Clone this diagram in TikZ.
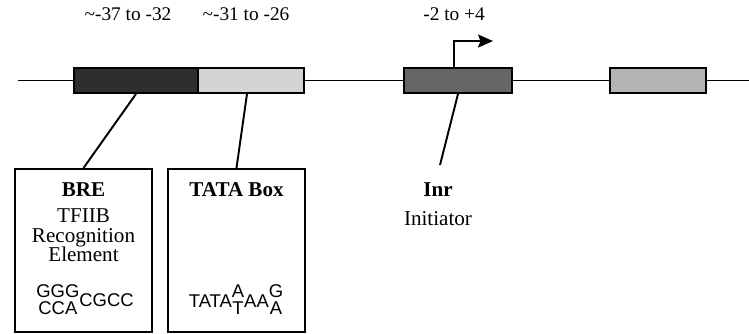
\documentclass[tikz,border=0pt]{standalone}
\usepackage{fontspec}
\setmainfont{Liberation Serif}
\setsansfont{Liberation Sans}
\usetikzlibrary{arrows.meta, positioning}

\definecolor{bredark}{HTML}{2E2E2E}
\definecolor{tatalight}{HTML}{D4D4D4}
\definecolor{inrgray}{HTML}{666666}
\definecolor{downgray}{HTML}{B3B3B3}

% two bases stacked at one position of a sequence
\newcommand{\basestack}[2]{{\renewcommand{\arraystretch}{0.74}\begin{tabular}[c]{@{}c@{}}#1\\#2\end{tabular}}}

\begin{document}
\begin{tikzpicture}[
    node distance=3mm,
    element/.style={rectangle, draw, line width=1.1pt, minimum height=0.5cm, inner sep=0pt},
    detail/.style={rectangle, draw, line width=1.1pt, minimum width=2.74cm, minimum height=3.26cm, anchor=north},
    poslabel/.style={font=\fontsize{11}{13}\selectfont, inner sep=0pt, anchor=base},
    title/.style={font=\fontsize{12}{14}\selectfont\bfseries, inner sep=0pt},
    desc/.style={font=\fontsize{12}{11.2}\selectfont, align=center, inner sep=0pt},
    seq/.style={font=\sffamily\fontsize{10.5}{12}\selectfont, inner sep=0pt, anchor=base},
    dna/.style={line width=1.1pt},
    link/.style={line width=1.1pt},
    tss/.style={-{Stealth[length=3mm, width=2.6mm, inset=0.5mm]}, line width=1.1pt}
  ]
  \useasboundingbox (0,0) rectangle (14.98,6.66);

  % promoter elements on the DNA line
  \node[element, fill=bredark,   minimum width=2.48cm] (bre)  at (2.72,5.05)  {};
  \node[element, fill=tatalight, minimum width=2.12cm] (tata) at (5.02,5.05)  {};
  \node[element, fill=inrgray,   minimum width=2.16cm] (inr)  at (9.16,5.05)  {};
  \node[element, fill=downgray,  minimum width=1.92cm] (down) at (13.16,5.05) {};
  \coordinate (lineL) at (0.36,5.05);
  \coordinate (lineR) at (14.98,5.05);

  \draw[dna] (lineL) -- (bre.west);
  \draw[dna] (tata.east) -- (inr.west);
  \draw[dna] (inr.east) -- (down.west);
  \draw[dna] (down.east) -- (lineR);

  % positions
  \node[poslabel] (brepos)  at (2.56,6.25) {\textasciitilde-37 to -32};
  \node[poslabel] (tatapos) at (4.92,6.25) {\textasciitilde-31 to -26};
  \node[poslabel] (inrpos)  at (9.08,6.25) {-2 to +4};

  % transcription start
  \draw[tss] (inrpos.base |- inr.north) -- ++(0,0.52) -- ++(0.78,0);

  % detail boxes
  \node[detail] (brebox)  at (1.67,3.3) {};
  \node[detail] (tatabox) at (4.73,3.3) {};

  \node[title] (bretitle)  at (1.67,2.87) {BRE};
  \node[desc, below=2.3mm of bretitle] (bredesc) {TFIIB\\Recognition\\Element};
  \node[seq] (breseq) at (1.7,0.53) {\basestack{GGG}{CCA}CGCC};

  \node[title] (tatatitle) at (4.73,2.87) {TATA Box};
  \node[seq] (tataseq) at (4.72,0.52) {TATA\basestack{A}{T}AA\basestack{G}{A}};

  \node[title] (inrtitle) at (8.76,2.87) {Inr};
  \node[desc, below=2.8mm of inrtitle] (inrdesc) {Initiator};
  \coordinate (inrfoot) at (8.8,3.36);

  \draw[link] (bre.south) -- (brebox.north);
  \draw[link] ([xshift=-0.08cm]tata.south) -- (tatabox.north);
  \draw[link] (inr.south) -- (inrfoot);
\end{tikzpicture}
\end{document}
